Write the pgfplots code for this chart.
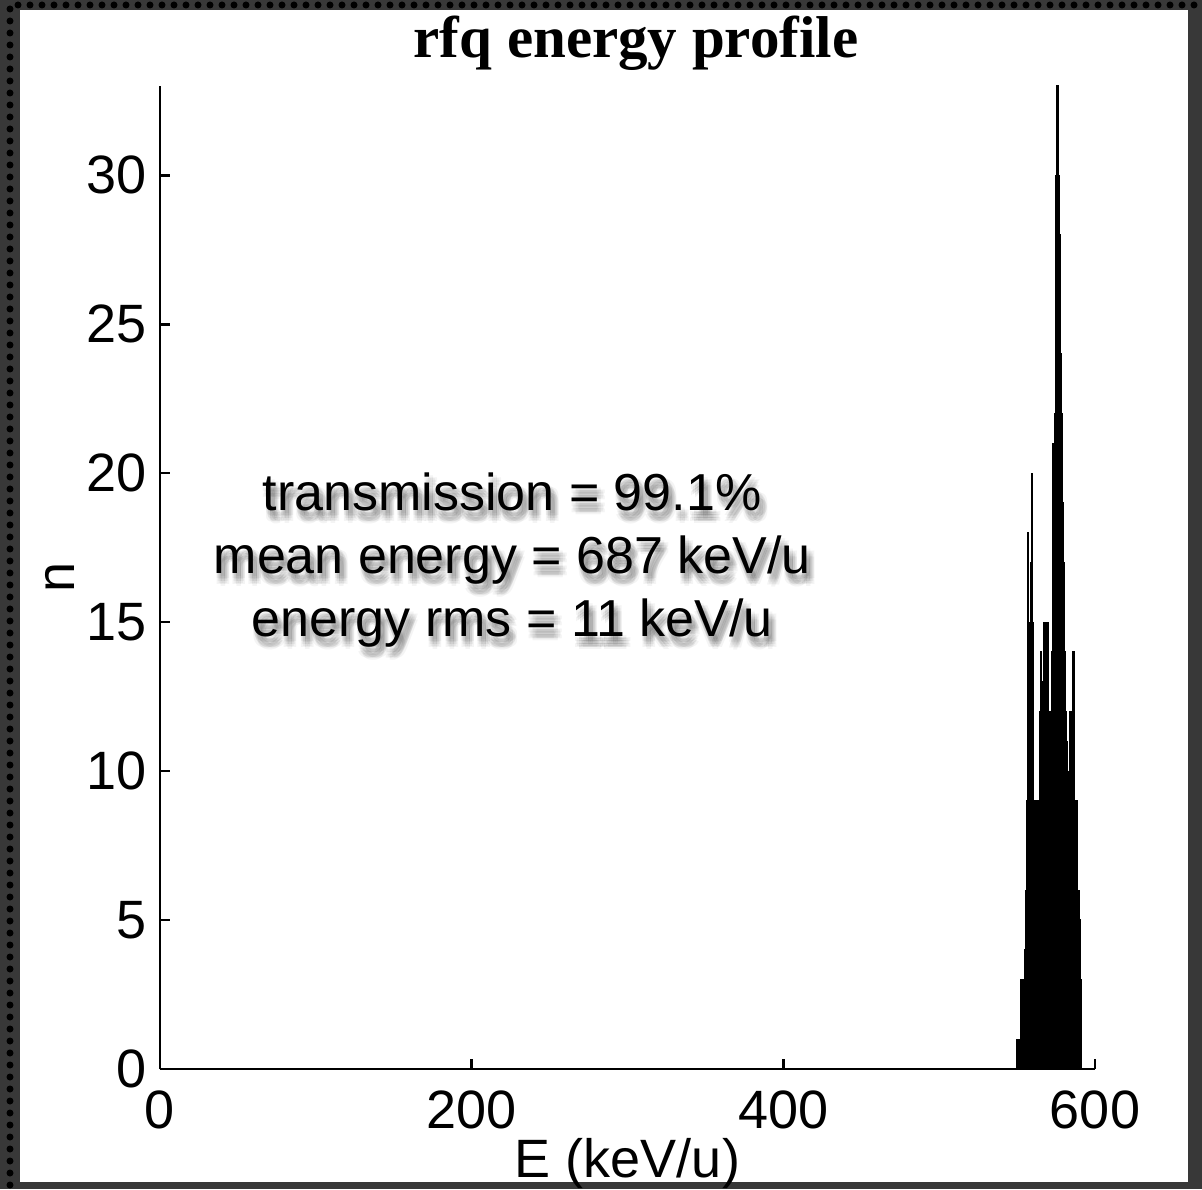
\documentclass[border=0pt]{standalone}
\usepackage{pgfplots}
\pgfplotsset{compat=1.18}
\usepackage{fontspec}
\setmainfont{Liberation Sans}
\newfontfamily\titlefont{Liberation Serif}

% energy histogram: left bin edge (keV/u) and counts
\pgfplotstableread{
E      n
549.5  1
550.0  1
550.5  1
551.0  1
551.5  1
552.0  1
552.5  3
553.0  3
553.5  3
554.0  3
554.5  3
555.0  4
555.5  6
556.0  9
556.5  15
557.0  18
557.5  15
558.0  15
558.5  17
559.0  20
559.5  20
560.0  15
560.5  9
561.0  9
561.5  9
562.0  9
562.5  8
563.0  9
563.5  9
564.0  9
564.5  12
565.0  14
565.5  13
566.0  9
566.5  12
567.0  15
567.5  15
568.0  14
568.5  15
569.0  10
569.5  15
570.0  9
570.5  10
571.0  12
571.5  11
572.0  14
572.5  17
573.0  21
573.5  19
574.0  22
574.5  27
575.0  30
575.5  33
576.0  33
576.5  30
577.0  28
577.5  27
578.0  24
578.5  22
579.0  19
579.5  17
580.0  17
580.5  14
581.0  12
581.5  9
582.0  11
582.5  10
583.0  9
583.5  12
584.0  12
584.5  11
585.0  12
585.5  14
586.0  14
586.5  13
587.0  9
587.5  9
588.0  9
588.5  8
589.0  6
589.5  6
590.0  5
590.5  3
591.0  2
591.5  0
}\histdata

\newcommand{\stats}{transmission = 99.1\%\\mean energy = 687 keV/u\\energy rms = 11 keV/u}

\begin{document}
\begin{tikzpicture}
% dark outer frame and white page
\fill[black!78] (0,0) rectangle (601pt,594.5pt);
\draw[black, line width=3.5pt, line cap=round, dash pattern=on 0pt off 6pt]
  (5pt,2pt) -- (5pt,592pt) -- (597pt,592pt);
\fill[white] (10pt,3.5pt) rectangle (594pt,589.5pt);
\path[use as bounding box] (0,0) rectangle (601pt,594.5pt);

\begin{axis}[
  at={(80pt,60pt)}, anchor=south west,
  scale only axis, width=467.5pt, height=491.5pt,
  xmin=0, xmax=600, ymin=0, ymax=33,
  axis x line*=bottom, axis y line*=left,
  axis line style={line width=1.2pt, black},
  xtick={0,200,400,600}, ytick={0,5,...,30},
  tick align=inside, major tick length=5pt,
  every tick/.style={line width=1.2pt, black},
  tick label style={font=\fontsize{27}{32}\selectfont, inner sep=0pt},
  /pgf/number format/assume math mode=true,
  yticklabel shift=6.5pt, xticklabel shift=10.5pt,
  xlabel={E (keV/u)}, ylabel={n},
  label style={font=\fontsize{27}{32}\selectfont},
  xlabel style={at={(axis description cs:0.5,-0.096)}, anchor=center},
  ylabel style={at={(axis description cs:-0.107,0.5)}, anchor=center},
  title={\titlefont\bfseries rfq energy profile},
  title style={font=\fontsize{29.5}{34}\selectfont, at={(axis description cs:0.509,1.031)}, anchor=center},
  clip=false,
]
\addplot[const plot, fill=black, draw=black, line width=0.6pt] table[x=E, y=n] {\histdata} \closedcycle;
\coordinate (statpos) at (axis cs:226,17.1);
\end{axis}

% run statistics with a soft drop shadow
\foreach \dx/\dy in {2/-4, 0.5/-4, 3.5/-4, 2/-2.5, 2/-5.5, 1/-3, 3/-3, 1/-5, 3/-5,
                     0/-2.5, 4/-5.5, 0/-5.5, 4/-2.5, 2/-1.5, 2/-6.5} {
  \node[align=center, text=black, opacity=0.045, font=\fontsize{26}{31.5}\selectfont]
    at ([xshift=\dx pt, yshift=\dy pt]statpos) {\stats};
}
\node[align=center, font=\fontsize{26}{31.5}\selectfont] at (statpos) {\stats};
\end{tikzpicture}
\end{document}
